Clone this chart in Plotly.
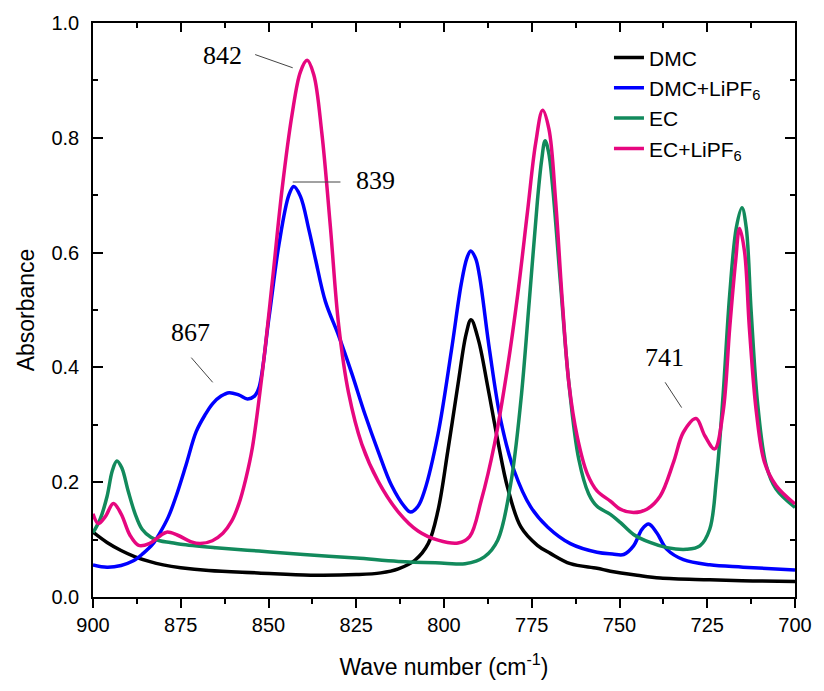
import plotly.graph_objects as go

# ---------------- data ----------------
dmc_wn = [900, 896, 892, 888, 884, 880, 875, 867, 853, 838, 825, 818, 813, 808.3, 804.5, 801.7, 798.9,
          796.0, 793.7, 792.3, 790.2, 787.5, 784.7, 781.9, 778.1, 773.4, 769.7, 764.0, 756.4, 752.6,
          745, 738.4, 724.3, 712, 700]
dmc_abs = [0.113, 0.095, 0.081, 0.070, 0.062, 0.056, 0.051, 0.046, 0.042, 0.038, 0.039, 0.042, 0.049,
           0.064, 0.093, 0.151, 0.255, 0.371, 0.458, 0.483, 0.448, 0.365, 0.273, 0.191, 0.122, 0.090,
           0.076, 0.058, 0.050, 0.045, 0.038, 0.033, 0.030, 0.028, 0.027]

dmcli_wn = [900, 896, 892, 888.5, 885.7, 883, 881, 878.5, 876.3, 873.5, 870.6, 868, 865.9, 863.5, 861.2,
            858.5, 856, 854, 852.7, 849.9, 847.0, 844.2, 842.8, 840.9, 838.5, 836.6, 833.8, 830.0, 826.3,
            822.5, 818.7, 815.0, 811.2, 809.5, 807.4, 805.5, 801.7, 797.9, 795.1, 793.5, 792.4, 791.0,
            789.9, 787.0, 783.8, 780.0, 775.3, 770.5, 764.0, 756.4, 752, 748.8, 746.0, 743.6, 741.7,
            739.4, 736.5, 731.8, 724.3, 714.8, 700]
dmcli_abs = [0.056, 0.052, 0.055, 0.063, 0.076, 0.092, 0.111, 0.140, 0.176, 0.230, 0.288, 0.318, 0.337,
             0.350, 0.356, 0.352, 0.345, 0.350, 0.365, 0.485, 0.615, 0.700, 0.715, 0.698, 0.640, 0.588,
             0.515, 0.455, 0.390, 0.318, 0.253, 0.195, 0.157, 0.148, 0.158, 0.186, 0.284, 0.429, 0.545,
             0.590, 0.603, 0.590, 0.560, 0.429, 0.307, 0.220, 0.157, 0.122, 0.093, 0.078, 0.075, 0.074,
             0.089, 0.118, 0.127, 0.112, 0.083, 0.065, 0.056, 0.052, 0.047]

ec_wn = [900, 898, 896, 894.5, 893.2, 891.8, 890, 888, 886, 883.5, 881, 878, 875, 865, 852.7, 840, 825,
         813, 800, 794, 788.5, 784.7, 781.0, 778.1, 775.7, 773.4, 772.2, 771.2, 770.2, 769.1, 766.8,
         764.4, 761.6, 758.8, 756.4, 752.6, 749.8, 746.0, 741.3, 736.5, 730.9, 727.1, 724.3, 722.4,
         720.5, 718.6, 716.7, 715.1, 713.9, 712.5, 710.6, 708.2, 705.4, 700]
ec_abs = [0.112, 0.135, 0.175, 0.220, 0.237, 0.225, 0.185, 0.145, 0.118, 0.104, 0.098, 0.095, 0.092,
          0.086, 0.080, 0.074, 0.068, 0.062, 0.059, 0.058, 0.070, 0.099, 0.197, 0.342, 0.516, 0.689,
          0.760, 0.795, 0.775, 0.718, 0.545, 0.371, 0.240, 0.180, 0.158, 0.144, 0.130, 0.109, 0.095,
          0.086, 0.083, 0.089, 0.118, 0.205, 0.351, 0.527, 0.644, 0.678, 0.644, 0.498, 0.334, 0.229,
          0.188, 0.156]

ecli_wn = [900, 898.5, 896.5, 894.2, 892, 889.5, 887, 884, 881, 879, 876, 872, 869.5, 866, 863, 860.5,
           858.4, 856.5, 854.6, 851.8, 848.9, 846.1, 843.3, 840.9, 839.0, 837.1, 834.8, 832.4, 830.0,
           827.2, 823.4, 818.7, 813, 807.4, 801.7, 796.0, 792.7, 789.4, 785.6, 781.9, 779.0, 776.2,
           773.9, 771.9, 770.1, 768.2, 766.3, 764.4, 762.0, 759.2, 756.4, 752.6, 749.8, 746.0, 742.2,
           738.4, 734.6, 731.8, 728.2, 725.7, 722.9, 720.5, 718.6, 716.9, 715.8, 714.4, 713.0, 711.0,
           708.7, 705.4, 700]
ecli_abs = [0.145, 0.128, 0.140, 0.163, 0.145, 0.108, 0.090, 0.093, 0.106, 0.113, 0.108, 0.096, 0.093,
            0.098, 0.111, 0.132, 0.163, 0.205, 0.260, 0.389, 0.550, 0.712, 0.840, 0.915, 0.935, 0.910,
            0.808, 0.647, 0.473, 0.356, 0.266, 0.201, 0.148, 0.115, 0.099, 0.094, 0.105, 0.168, 0.267,
            0.400, 0.527, 0.672, 0.790, 0.848, 0.815, 0.690, 0.516, 0.371, 0.278, 0.215, 0.185, 0.167,
            0.153, 0.147, 0.153, 0.176, 0.235, 0.287, 0.311, 0.281, 0.258, 0.322, 0.469, 0.586, 0.642,
            0.603, 0.469, 0.322, 0.235, 0.194, 0.162]

series_names = ["DMC", "DMC+LiPF<sub>6</sub>", "EC", "EC+LiPF<sub>6</sub>"]
series_colors = ["#000000", "#0000FF", "#128A5C", "#E6077F"]

# peak labels: text, text position, leader line start/end (data units)
label_texts = ["842", "839", "867", "741"]
label_pos = [(863.2, 0.943), (819.5, 0.726), (872.3, 0.461), (737.1, 0.418)]
leader_lines = [((853.8, 0.945), (843.1, 0.922)),
                ((843.1, 0.723), (829.5, 0.723)),
                ((872.0, 0.417), (865.9, 0.374)),
                ((737.0, 0.374), (732.3, 0.330))]

x_range = [900, 700]
y_range = [0, 1.0]

# ---------------- figure ----------------
fig = go.Figure()
xs = [dmc_wn, dmcli_wn, ec_wn, ecli_wn]
ys = [dmc_abs, dmcli_abs, ec_abs, ecli_abs]
for x, y, n, c in zip(xs, ys, series_names, series_colors):
    fig.add_trace(go.Scatter(x=x, y=y, name=n, mode="lines",
                             line=dict(color=c, width=3.5, shape="spline", smoothing=1.0)))

# helper trace for mirrored (top/right) axes
fig.add_trace(go.Scatter(x=[], y=[], xaxis="x2", yaxis="y2", showlegend=False, hoverinfo="skip"))

for (t, (tx, ty)) in zip(label_texts, label_pos):
    fig.add_annotation(x=tx, y=ty, text=t, showarrow=False,
                       font=dict(family="Times New Roman, Liberation Serif, serif", size=26, color="black"))
for (p0, p1) in leader_lines:
    fig.add_shape(type="line", x0=p0[0], y0=p0[1], x1=p1[0], y1=p1[1],
                  line=dict(color="#444444", width=1))

axis_font = dict(family="Arial, Liberation Sans, sans-serif", size=20, color="black")
title_font = dict(family="Arial, Liberation Sans, sans-serif", size=23, color="black")

fig.update_layout(
    width=824, height=691,
    margin=dict(l=93, r=25, t=21, b=94),
    paper_bgcolor="white", plot_bgcolor="white",
    showlegend=True,
    legend=dict(x=0.735, y=0.975, xanchor="left", yanchor="top",
                bgcolor="rgba(0,0,0,0)", font=dict(family="Arial, Liberation Sans, sans-serif", size=21, color="black"),
                tracegroupgap=0),
    xaxis=dict(range=x_range, autorange=False, dtick=25, tick0=700, ticks="outside", ticklen=9, tickwidth=1.5,
               tickcolor="black", showline=True, linecolor="black", linewidth=1.5, showgrid=False, zeroline=False,
               tickfont=axis_font, title=dict(text="Wave number (cm<sup>-1</sup>)", font=title_font, standoff=24),
               minor=dict(dtick=12.5, ticks="outside", ticklen=5, tickwidth=1.5, tickcolor="black", showgrid=False)),
    yaxis=dict(range=y_range, autorange=False, dtick=0.2, tick0=0, tickformat=".1f", ticks="inside", ticklen=10,
               tickwidth=1.5, tickcolor="black", showline=True, linecolor="black", linewidth=1.5, showgrid=False,
               zeroline=False, tickfont=axis_font, ticklabelstandoff=8,
               title=dict(text="Absorbance", font=title_font, standoff=10),
               minor=dict(dtick=0.1, ticks="inside", ticklen=5, tickwidth=1.5, tickcolor="black", showgrid=False)),
    xaxis2=dict(range=x_range, autorange=False, overlaying="x", side="top", anchor="y2", dtick=25, tick0=700,
                ticks="inside", ticklen=9, tickwidth=1.5, tickcolor="black", showticklabels=False, showline=True,
                linecolor="black", linewidth=1.5, showgrid=False, zeroline=False,
                minor=dict(dtick=12.5, ticks="inside", ticklen=5, tickwidth=1.5, tickcolor="black", showgrid=False)),
    yaxis2=dict(range=y_range, autorange=False, overlaying="y", side="right", anchor="x2", dtick=0.2, tick0=0,
                ticks="inside", ticklen=10, tickwidth=1.5, tickcolor="black", showticklabels=False, showline=True,
                linecolor="black", linewidth=1.5, showgrid=False, zeroline=False,
                minor=dict(dtick=0.1, ticks="inside", ticklen=5, tickwidth=1.5, tickcolor="black", showgrid=False)),
)

fig.write_html("out.html")
